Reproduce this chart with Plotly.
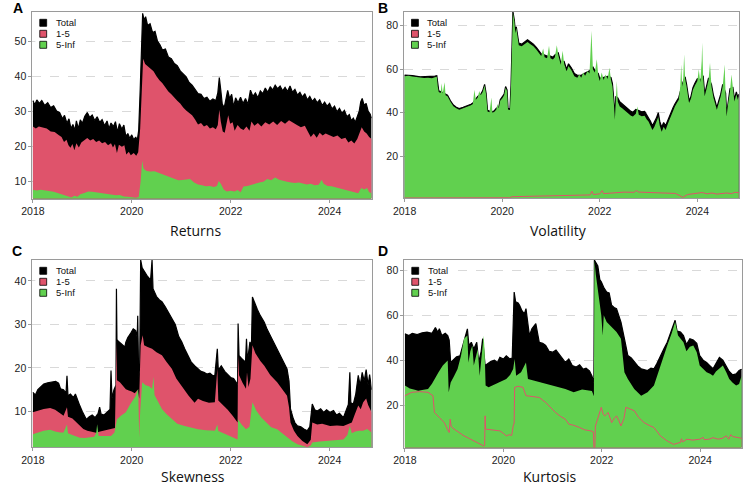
import plotly.graph_objects as go

# ---------------- DATA (time in decimal years, value) ----------------
A_TOTAL = [(2018.00,33.0),(2018.04,31.8),(2018.08,33.2),(2018.13,32.2),(2018.18,33.0),(2018.24,31.6),(2018.30,32.4),(2018.36,31.0),(2018.42,31.5),(2018.48,30.0),(2018.54,29.6),(2018.60,27.8),(2018.64,28.8),(2018.69,26.5),(2018.73,27.8),(2018.77,25.0),(2018.81,26.2),(2018.85,24.5),(2018.88,27.2),(2018.92,25.0),(2018.96,27.5),(2019.00,26.5),(2019.05,28.5),(2019.10,29.6),(2019.15,28.2),(2019.20,28.9),(2019.25,27.3),(2019.30,28.4),(2019.35,26.8),(2019.40,27.6),(2019.45,25.8),(2019.50,27.2),(2019.54,25.0),(2019.58,26.6),(2019.63,25.6),(2019.67,27.0),(2019.71,24.0),(2019.75,26.4),(2019.80,24.8),(2019.84,26.0),(2019.88,22.8),(2019.92,23.6),(2019.96,22.2),(2020.00,23.2),(2020.04,21.8),(2020.08,22.6),(2020.11,21.5),(2020.14,24.5),(2020.17,36.0),(2020.20,52.0),(2020.22,58.0),(2020.25,56.0),(2020.28,57.0),(2020.32,54.5),(2020.37,55.0),(2020.42,52.5),(2020.47,52.8),(2020.52,50.0),(2020.57,49.0),(2020.62,47.5),(2020.68,47.8),(2020.74,45.5),(2020.80,45.0),(2020.86,43.6),(2020.92,43.0),(2020.98,41.5),(2021.04,40.5),(2021.10,39.8),(2021.16,38.2),(2021.22,37.4),(2021.28,36.2),(2021.34,35.0),(2021.40,34.8),(2021.46,33.6),(2021.52,34.0),(2021.58,32.8),(2021.64,33.5),(2021.70,33.0),(2021.74,35.2),(2021.77,39.6),(2021.80,36.0),(2021.83,32.0),(2021.87,31.0),(2021.91,34.0),(2021.94,35.9),(2021.98,33.6),(2022.02,34.8),(2022.06,31.2),(2022.10,33.8),(2022.15,32.4),(2022.20,34.0),(2022.25,32.2),(2022.30,33.6),(2022.35,32.0),(2022.40,36.0),(2022.45,34.2),(2022.50,35.2),(2022.55,33.8),(2022.60,35.8),(2022.65,35.0),(2022.70,36.6),(2022.75,35.4),(2022.80,37.0),(2022.85,36.0),(2022.90,37.4),(2022.95,36.4),(2023.00,37.2),(2023.05,35.8),(2023.10,36.8),(2023.15,35.6),(2023.20,37.2),(2023.25,35.4),(2023.30,36.2),(2023.35,34.6),(2023.40,35.4),(2023.45,34.0),(2023.50,35.0),(2023.55,33.2),(2023.60,34.2),(2023.65,32.8),(2023.70,33.6),(2023.75,32.4),(2023.80,33.2),(2023.85,31.6),(2023.90,32.6),(2023.95,31.4),(2024.00,32.2),(2024.05,30.6),(2024.10,31.4),(2024.15,29.8),(2024.20,30.8),(2024.25,29.4),(2024.30,30.2),(2024.35,28.4),(2024.40,29.0),(2024.44,27.2),(2024.48,28.0),(2024.52,26.8),(2024.56,28.6),(2024.60,30.0),(2024.63,32.6),(2024.66,33.6),(2024.70,31.6),(2024.74,32.2),(2024.78,30.0),(2024.82,29.2),(2024.85,28.0)]
A_R15 = [(2018.00,25.6),(2018.06,25.0),(2018.12,25.6),(2018.20,25.2),(2018.28,25.0),(2018.36,24.2),(2018.44,24.0),(2018.52,23.2),(2018.58,22.6),(2018.63,21.2),(2018.68,21.8),(2018.72,20.2),(2018.76,19.5),(2018.80,20.6),(2018.84,18.8),(2018.88,20.8),(2018.93,19.6),(2018.98,21.0),(2019.04,21.6),(2019.10,22.3),(2019.16,21.6),(2019.22,22.0),(2019.28,21.2),(2019.34,21.6),(2019.40,20.8),(2019.46,21.2),(2019.52,20.2),(2019.58,20.8),(2019.62,19.6),(2019.66,20.6),(2019.70,18.0),(2019.74,20.4),(2019.80,19.8),(2019.85,20.2),(2019.89,17.6),(2019.94,18.4),(2019.98,17.4),(2020.04,18.0),(2020.09,17.2),(2020.13,18.2),(2020.17,25.0),(2020.20,38.0),(2020.23,45.0),(2020.27,43.5),(2020.32,42.8),(2020.38,42.0),(2020.44,41.4),(2020.50,40.0),(2020.56,38.8),(2020.62,38.0),(2020.68,36.8),(2020.74,35.6),(2020.80,34.8),(2020.86,33.8),(2020.92,33.0),(2020.98,32.2),(2021.04,31.0),(2021.10,30.2),(2021.16,29.4),(2021.22,28.8),(2021.28,27.6),(2021.34,26.2),(2021.40,26.6),(2021.46,25.6),(2021.52,26.0),(2021.58,25.0),(2021.64,25.4),(2021.70,24.8),(2021.74,26.0),(2021.77,30.4),(2021.80,27.0),(2021.84,24.2),(2021.88,23.8),(2021.92,27.0),(2021.95,28.8),(2021.99,26.4),(2022.04,26.8),(2022.08,24.4),(2022.14,26.0),(2022.20,25.0),(2022.26,24.6),(2022.32,25.6),(2022.38,24.4),(2022.42,27.0),(2022.48,25.8),(2022.55,26.6),(2022.62,25.6),(2022.70,26.8),(2022.78,26.2),(2022.86,27.0),(2022.94,26.0),(2023.02,27.2),(2023.10,26.4),(2023.18,27.4),(2023.26,26.6),(2023.34,26.0),(2023.42,25.4),(2023.50,25.8),(2023.56,24.2),(2023.62,22.6),(2023.68,23.6),(2023.74,22.4),(2023.80,23.8),(2023.86,23.0),(2023.92,23.6),(2024.00,23.0),(2024.08,22.6),(2024.16,23.0),(2024.24,22.0),(2024.32,22.4),(2024.38,21.0),(2024.44,21.6),(2024.50,20.7),(2024.56,22.0),(2024.61,24.0),(2024.65,25.4),(2024.70,24.2),(2024.75,23.6),(2024.80,22.6),(2024.85,22.0)]
A_R5INF = [(2018.00,7.5),(2018.08,7.3),(2018.16,7.5),(2018.25,7.3),(2018.33,7.2),(2018.42,6.9),(2018.50,6.6),(2018.58,6.3),(2018.66,5.9),(2018.72,5.6),(2018.78,5.3),(2018.84,5.8),(2018.90,5.5),(2018.96,6.2),(2019.04,6.6),(2019.12,7.0),(2019.20,6.9),(2019.28,6.7),(2019.36,6.5),(2019.44,6.4),(2019.52,6.2),(2019.60,6.1),(2019.68,5.9),(2019.76,6.0),(2019.84,5.6),(2019.92,5.5),(2020.00,5.3),(2020.08,5.2),(2020.14,5.4),(2020.18,10.0),(2020.21,15.8),(2020.24,13.5),(2020.30,12.9),(2020.38,12.7),(2020.46,12.8),(2020.54,12.4),(2020.62,12.0),(2020.70,11.6),(2020.78,11.2),(2020.86,10.6),(2020.94,10.2),(2021.02,10.3),(2021.10,10.4),(2021.18,10.6),(2021.26,9.6),(2021.34,9.0),(2021.42,8.8),(2021.50,8.5),(2021.58,8.6),(2021.66,8.3),(2021.72,8.6),(2021.76,10.0),(2021.80,9.2),(2021.86,7.6),(2021.92,7.0),(2022.00,7.2),(2022.08,7.0),(2022.14,7.4),(2022.20,6.8),(2022.26,8.4),(2022.34,8.6),(2022.42,9.0),(2022.50,9.3),(2022.58,9.6),(2022.66,9.8),(2022.74,10.6),(2022.82,10.2),(2022.90,11.0),(2022.98,10.4),(2023.06,10.0),(2023.14,9.8),(2023.22,9.6),(2023.30,9.4),(2023.38,9.6),(2023.46,9.2),(2023.54,9.0),(2023.62,9.2),(2023.70,8.8),(2023.78,8.9),(2023.84,10.4),(2023.88,9.2),(2023.96,8.6),(2024.04,8.5),(2024.12,8.2),(2024.20,8.0),(2024.28,7.8),(2024.36,7.4),(2024.44,7.0),(2024.52,6.8),(2024.58,6.5),(2024.64,8.0),(2024.70,7.6),(2024.76,8.0),(2024.80,6.8),(2024.85,6.6)]

B_TOTAL = [(2018.00,57.3),(2018.16,57.1),(2018.32,56.5),(2018.48,56.5),(2018.62,56.8),(2018.66,57.0),(2018.70,50.0),(2018.78,49.3),(2018.84,48.5),(2018.88,48.0),(2018.94,45.5),(2019.00,43.5),(2019.06,42.5),(2019.12,41.9),(2019.20,42.5),(2019.28,43.1),(2019.36,43.9),(2019.40,44.5),(2019.46,46.5),(2019.50,47.5),(2019.56,48.5),(2019.60,50.0),(2019.64,53.0),(2019.67,49.0),(2019.70,41.1),(2019.74,40.7),(2019.80,40.5),(2019.84,40.9),(2019.88,42.0),(2019.93,42.5),(2019.96,46.0),(2020.00,47.0),(2020.04,48.5),(2020.07,52.0),(2020.10,50.5),(2020.12,42.0),(2020.16,41.7),(2020.18,52.0),(2020.20,74.5),(2020.22,86.5),(2020.25,82.5),(2020.27,77.0),(2020.29,79.5),(2020.31,75.5),(2020.34,72.0),(2020.40,71.5),(2020.46,72.5),(2020.52,73.5),(2020.58,72.5),(2020.64,71.5),(2020.70,70.0),(2020.76,68.5),(2020.80,67.0),(2020.87,66.5),(2020.92,66.0),(2020.99,66.0),(2021.04,65.5),(2021.08,66.5),(2021.15,67.5),(2021.20,63.0),(2021.27,63.5),(2021.32,60.0),(2021.36,62.5),(2021.42,60.5),(2021.48,58.0),(2021.54,57.2),(2021.62,57.2),(2021.70,58.2),(2021.79,59.2),(2021.86,61.0),(2021.90,59.5),(2021.97,58.0),(2022.00,55.8),(2022.08,56.2),(2022.16,56.7),(2022.23,56.2),(2022.26,53.4),(2022.29,45.5),(2022.31,38.5),(2022.33,47.5),(2022.37,46.8),(2022.41,45.0),(2022.46,44.0),(2022.52,42.8),(2022.58,42.0),(2022.64,40.6),(2022.68,40.2),(2022.74,41.5),(2022.80,41.0),(2022.86,40.4),(2022.92,40.6),(2022.96,39.0),(2023.00,38.0),(2023.04,36.0),(2023.08,34.0),(2023.12,35.5),(2023.16,37.5),(2023.20,40.0),(2023.23,36.0),(2023.27,33.3),(2023.31,35.5),(2023.35,34.0),(2023.40,37.0),(2023.45,39.5),(2023.50,42.2),(2023.54,44.0),(2023.58,45.5),(2023.62,47.0),(2023.69,53.0),(2023.75,56.5),(2023.78,53.0),(2023.81,49.0),(2023.83,45.4),(2023.87,47.5),(2023.91,51.5),(2023.95,53.5),(2024.00,55.6),(2024.06,55.0),(2024.12,57.0),(2024.15,48.5),(2024.19,52.0),(2024.23,56.0),(2024.29,53.0),(2024.33,48.0),(2024.37,45.0),(2024.40,42.3),(2024.44,45.5),(2024.48,48.5),(2024.52,53.0),(2024.58,49.0),(2024.60,39.2),(2024.63,45.0),(2024.67,51.0),(2024.73,51.5),(2024.76,46.2),(2024.80,49.5),(2024.83,47.0),(2024.85,48.5)]
B_R15 = [(2018.00,0.8),(2018.50,0.8),(2019.00,0.8),(2019.50,0.8),(2020.00,0.8),(2020.15,0.9),(2020.20,1.4),(2020.50,1.5),(2020.90,1.6),(2021.00,1.8),(2021.50,1.9),(2021.80,2.2),(2021.84,3.9),(2021.87,2.4),(2022.00,2.7),(2022.05,4.2),(2022.08,2.8),(2022.20,3.0),(2022.40,3.2),(2022.50,3.5),(2022.70,3.4),(2022.75,4.2),(2022.80,3.5),(2023.00,3.3),(2023.20,3.4),(2023.40,3.1),(2023.55,2.9),(2023.65,1.8),(2023.70,1.1),(2023.80,2.4),(2023.90,2.8),(2024.00,3.0),(2024.10,3.3),(2024.20,2.7),(2024.30,3.1),(2024.40,2.6),(2024.50,2.9),(2024.60,3.1),(2024.70,2.8),(2024.77,3.4),(2024.85,3.3)]
B_R5INF = [(2018.00,56.8),(2018.08,57.0),(2018.16,56.6),(2018.24,56.3),(2018.32,56.0),(2018.40,55.9),(2018.48,56.0),(2018.56,55.8),(2018.62,56.3),(2018.66,56.5),(2018.68,52.0),(2018.70,49.5),(2018.74,49.0),(2018.76,53.5),(2018.78,48.8),(2018.82,54.0),(2018.84,48.0),(2018.88,47.5),(2018.94,45.0),(2019.00,43.0),(2019.06,42.0),(2019.12,41.4),(2019.20,42.0),(2019.28,42.6),(2019.36,43.4),(2019.40,44.0),(2019.43,50.5),(2019.46,46.0),(2019.50,47.0),(2019.53,50.0),(2019.56,48.0),(2019.60,49.5),(2019.64,52.5),(2019.67,48.5),(2019.70,40.6),(2019.74,40.2),(2019.78,47.0),(2019.80,40.0),(2019.84,40.4),(2019.88,41.5),(2019.90,44.0),(2019.93,42.0),(2019.96,45.5),(2020.00,46.5),(2020.04,48.0),(2020.07,51.5),(2020.10,50.0),(2020.12,41.5),(2020.16,41.2),(2020.18,51.5),(2020.20,74.0),(2020.22,86.0),(2020.25,82.0),(2020.27,76.5),(2020.29,79.0),(2020.31,75.0),(2020.34,71.0),(2020.40,70.5),(2020.46,71.5),(2020.52,72.5),(2020.58,71.5),(2020.64,70.5),(2020.70,69.0),(2020.76,67.5),(2020.80,66.0),(2020.84,69.5),(2020.87,65.5),(2020.92,65.0),(2020.96,70.8),(2020.99,65.0),(2021.04,64.5),(2021.08,65.5),(2021.12,71.0),(2021.15,66.5),(2021.20,62.0),(2021.24,68.5),(2021.27,62.5),(2021.32,59.0),(2021.36,61.5),(2021.42,59.5),(2021.48,56.8),(2021.54,56.0),(2021.58,57.5),(2021.62,56.0),(2021.66,58.5),(2021.70,57.0),(2021.75,59.2),(2021.79,58.0),(2021.83,77.7),(2021.86,60.0),(2021.90,58.5),(2021.94,64.6),(2021.97,57.0),(2022.00,54.6),(2022.04,58.5),(2022.08,55.0),(2022.12,57.5),(2022.16,55.5),(2022.20,60.7),(2022.23,55.0),(2022.26,52.2),(2022.29,44.0),(2022.31,36.7),(2022.33,46.0),(2022.35,54.6),(2022.37,45.0),(2022.41,42.9),(2022.46,42.0),(2022.52,40.8),(2022.58,40.0),(2022.64,38.6),(2022.68,38.2),(2022.74,39.5),(2022.77,42.9),(2022.80,39.0),(2022.86,38.4),(2022.92,38.6),(2022.96,37.0),(2023.00,36.0),(2023.04,34.0),(2023.08,32.0),(2023.12,33.5),(2023.16,35.5),(2023.20,38.0),(2023.23,34.0),(2023.27,31.3),(2023.31,33.5),(2023.35,32.0),(2023.40,35.2),(2023.45,38.0),(2023.50,41.0),(2023.54,42.9),(2023.58,44.5),(2023.62,46.0),(2023.65,52.0),(2023.67,62.2),(2023.69,52.0),(2023.71,55.0),(2023.73,66.8),(2023.75,55.5),(2023.78,52.0),(2023.81,48.0),(2023.83,44.4),(2023.87,46.5),(2023.91,50.5),(2023.95,52.5),(2024.00,54.6),(2024.03,60.0),(2024.06,54.0),(2024.09,64.0),(2024.10,72.3),(2024.12,56.0),(2024.15,47.5),(2024.19,51.0),(2024.23,55.0),(2024.26,63.0),(2024.29,52.0),(2024.33,47.0),(2024.37,44.0),(2024.40,41.3),(2024.44,44.5),(2024.48,47.5),(2024.52,52.0),(2024.56,62.2),(2024.58,48.0),(2024.60,38.2),(2024.63,44.0),(2024.67,50.0),(2024.70,57.6),(2024.73,50.5),(2024.76,45.2),(2024.80,48.5),(2024.83,46.0),(2024.85,47.5)]

C_TOTAL = [(2018.00,14.4),(2018.05,13.8),(2018.10,15.0),(2018.15,15.6),(2018.22,16.3),(2018.30,16.6),(2018.38,16.8),(2018.46,16.9),(2018.52,16.5),(2018.56,15.2),(2018.62,15.0),(2018.67,14.2),(2018.69,18.2),(2018.71,13.6),(2018.76,14.0),(2018.82,13.2),(2018.86,14.0),(2018.90,12.6),(2018.95,11.3),(2019.00,10.0),(2019.05,8.8),(2019.08,8.2),(2019.14,8.8),(2019.20,9.2),(2019.26,8.6),(2019.32,9.6),(2019.35,11.0),(2019.38,9.4),(2019.44,9.2),(2019.50,9.8),(2019.56,10.5),(2019.58,19.4),(2019.60,13.0),(2019.64,15.0),(2019.68,16.0),(2019.69,38.2),(2019.70,26.5),(2019.74,26.0),(2019.80,25.4),(2019.86,24.8),(2019.88,25.9),(2019.92,27.0),(2019.98,28.0),(2020.03,29.0),(2020.08,28.6),(2020.11,27.0),(2020.12,32.0),(2020.14,18.0),(2020.16,20.0),(2020.18,44.8),(2020.21,43.0),(2020.26,42.0),(2020.32,41.0),(2020.38,40.2),(2020.41,44.8),(2020.43,38.2),(2020.50,36.4),(2020.56,35.6),(2020.61,35.2),(2020.68,34.0),(2020.74,32.8),(2020.81,31.7),(2020.88,30.0),(2020.95,27.2),(2021.01,26.0),(2021.07,24.4),(2021.14,22.6),(2021.20,21.4),(2021.27,20.5),(2021.34,19.8),(2021.40,19.2),(2021.46,19.0),(2021.52,18.6),(2021.58,18.8),(2021.64,18.2),(2021.68,18.3),(2021.73,24.4),(2021.75,19.5),(2021.81,20.5),(2021.88,19.2),(2021.94,18.5),(2022.00,17.8),(2022.06,17.6),(2022.10,17.0),(2022.14,16.2),(2022.15,30.2),(2022.17,22.8),(2022.22,22.2),(2022.27,21.6),(2022.30,21.3),(2022.32,26.7),(2022.34,21.6),(2022.39,26.0),(2022.42,25.0),(2022.44,36.3),(2022.48,35.0),(2022.54,33.4),(2022.60,32.0),(2022.68,30.5),(2022.74,28.8),(2022.80,27.4),(2022.88,25.8),(2022.94,24.4),(2023.00,23.0),(2023.06,21.4),(2023.14,19.8),(2023.18,17.0),(2023.21,10.6),(2023.26,8.6),(2023.30,7.4),(2023.35,6.7),(2023.42,6.5),(2023.48,6.0),(2023.55,5.6),(2023.60,6.5),(2023.65,11.7),(2023.70,10.4),(2023.75,10.1),(2023.82,10.6),(2023.88,9.8),(2023.94,10.4),(2024.01,9.8),(2024.08,10.2),(2024.14,9.2),(2024.20,9.6),(2024.28,8.6),(2024.34,10.4),(2024.38,11.6),(2024.41,19.0),(2024.43,12.0),(2024.48,11.7),(2024.53,14.0),(2024.58,18.3),(2024.62,16.0),(2024.66,19.0),(2024.70,17.0),(2024.74,19.6),(2024.78,16.0),(2024.81,18.5),(2024.85,15.0)]
C_R15 = [(2018.00,9.8),(2018.10,10.2),(2018.22,10.6),(2018.35,10.8),(2018.45,10.4),(2018.55,9.6),(2018.62,9.0),(2018.69,11.0),(2018.71,8.8),(2018.80,8.4),(2018.88,7.6),(2018.95,6.7),(2019.02,6.0),(2019.10,5.6),(2019.20,5.4),(2019.28,5.1),(2019.36,5.4),(2019.44,5.6),(2019.52,5.8),(2019.58,5.9),(2019.66,6.2),(2019.69,25.8),(2019.70,17.2),(2019.76,16.7),(2019.82,16.0),(2019.88,15.1),(2019.94,14.8),(2020.00,14.6),(2020.06,14.2),(2020.12,15.0),(2020.15,13.0),(2020.18,25.2),(2020.22,27.5),(2020.25,25.2),(2020.32,24.8),(2020.41,24.4),(2020.50,23.6),(2020.61,22.9),(2020.70,21.4),(2020.81,19.8),(2020.90,17.6),(2021.00,16.0),(2021.07,15.1),(2021.15,13.6),(2021.27,12.0),(2021.34,12.9),(2021.44,12.4),(2021.56,12.0),(2021.68,12.1),(2021.73,19.8),(2021.75,12.5),(2021.84,11.6),(2021.94,10.4),(2022.04,9.0),(2022.14,7.5),(2022.15,22.8),(2022.17,18.3),(2022.24,16.6),(2022.31,15.2),(2022.33,19.0),(2022.36,15.6),(2022.40,17.5),(2022.44,25.2),(2022.50,23.4),(2022.60,21.6),(2022.68,20.5),(2022.80,18.4),(2022.94,16.7),(2023.04,15.2),(2023.14,13.6),(2023.18,11.0),(2023.21,7.5),(2023.28,5.6),(2023.35,4.4),(2023.45,3.2),(2023.55,2.5),(2023.62,3.5),(2023.65,7.5),(2023.75,7.0),(2023.85,7.2),(2024.01,6.7),(2024.15,6.8),(2024.28,6.7),(2024.38,7.2),(2024.45,7.5),(2024.50,9.0),(2024.55,10.6),(2024.58,11.4),(2024.63,10.5),(2024.68,12.1),(2024.74,13.0),(2024.78,11.5),(2024.85,9.8)]
C_R5INF = [(2018.00,4.8),(2018.10,5.2),(2018.22,5.6),(2018.35,5.8),(2018.45,5.4),(2018.55,5.2),(2018.62,5.2),(2018.69,7.0),(2018.71,5.0),(2018.80,4.6),(2018.90,4.2),(2018.95,4.0),(2019.05,3.9),(2019.15,4.0),(2019.24,4.2),(2019.28,5.0),(2019.30,7.1),(2019.33,4.4),(2019.40,4.4),(2019.50,4.5),(2019.58,4.4),(2019.65,5.2),(2019.70,8.2),(2019.78,9.0),(2019.88,9.8),(2019.96,11.5),(2020.02,12.6),(2020.08,13.6),(2020.13,15.2),(2020.15,4.0),(2020.17,10.0),(2020.21,16.7),(2020.28,16.0),(2020.35,15.8),(2020.41,15.2),(2020.44,18.0),(2020.46,13.8),(2020.54,12.0),(2020.61,10.6),(2020.70,9.4),(2020.81,8.2),(2020.92,7.2),(2021.07,6.7),(2021.20,6.3),(2021.34,5.9),(2021.50,5.7),(2021.68,5.6),(2021.73,7.0),(2021.75,5.5),(2021.90,4.8),(2022.04,4.2),(2022.14,3.6),(2022.15,8.2),(2022.22,7.0),(2022.31,5.9),(2022.38,6.5),(2022.44,12.1),(2022.52,10.2),(2022.62,8.6),(2022.72,7.4),(2022.82,6.4),(2022.94,5.9),(2023.04,5.0),(2023.14,4.0),(2023.24,3.2),(2023.35,2.5),(2023.45,2.1),(2023.55,1.8),(2023.62,2.2),(2023.65,2.9),(2023.80,3.1),(2024.01,3.3),(2024.15,3.4),(2024.28,3.6),(2024.36,4.6),(2024.41,6.7),(2024.45,5.0),(2024.52,5.4),(2024.60,5.6),(2024.68,5.6),(2024.76,6.0),(2024.85,5.2)]

D_TOTAL = [(2018.00,51.8),(2018.08,51.0),(2018.15,52.0),(2018.25,51.4),(2018.35,52.2),(2018.45,52.5),(2018.55,52.0),(2018.62,54.6),(2018.67,52.5),(2018.70,54.0),(2018.75,51.0),(2018.82,52.0),(2018.87,51.0),(2018.90,49.0),(2018.93,39.0),(2018.98,40.0),(2019.05,41.5),(2019.12,42.0),(2019.18,47.0),(2019.23,51.0),(2019.27,54.0),(2019.30,46.6),(2019.35,48.0),(2019.40,45.0),(2019.46,48.0),(2019.50,39.0),(2019.55,44.0),(2019.58,49.6),(2019.61,43.0),(2019.63,37.6),(2019.68,38.4),(2019.75,39.5),(2019.82,40.0),(2019.88,39.0),(2019.93,41.3),(2020.00,40.5),(2020.06,42.0),(2020.13,40.6),(2020.18,41.0),(2020.22,70.4),(2020.25,66.0),(2020.30,65.5),(2020.33,64.5),(2020.38,62.0),(2020.43,60.7),(2020.46,63.0),(2020.53,51.0),(2020.58,54.0),(2020.66,56.3),(2020.73,48.0),(2020.80,47.5),(2020.86,46.6),(2020.93,44.0),(2021.00,43.6),(2021.07,44.5),(2021.13,42.8),(2021.20,41.0),(2021.26,39.0),(2021.33,40.5),(2021.40,37.6),(2021.48,37.0),(2021.55,38.0),(2021.62,36.0),(2021.68,36.5),(2021.75,35.2),(2021.80,33.0),(2021.84,30.0),(2021.85,84.6),(2021.92,82.0),(2021.96,76.0),(2021.99,75.0),(2022.05,72.0),(2022.10,70.4),(2022.15,70.0),(2022.20,64.5),(2022.25,63.5),(2022.30,63.0),(2022.35,60.0),(2022.39,57.0),(2022.46,49.6),(2022.53,42.1),(2022.60,41.0),(2022.66,39.2),(2022.73,37.5),(2022.80,36.2),(2022.93,35.4),(2023.00,36.5),(2023.06,36.2),(2023.12,38.5),(2023.19,42.0),(2023.26,45.0),(2023.33,48.0),(2023.40,52.0),(2023.45,55.0),(2023.49,57.8),(2023.53,53.0),(2023.60,52.6),(2023.66,51.0),(2023.72,47.0),(2023.79,49.6),(2023.86,49.0),(2023.93,47.5),(2023.99,42.0),(2024.06,40.0),(2024.13,39.0),(2024.20,37.5),(2024.26,36.2),(2024.32,38.5),(2024.39,41.3),(2024.46,40.0),(2024.53,37.0),(2024.59,35.0),(2024.66,33.5),(2024.73,33.9),(2024.79,35.4),(2024.84,36.0)]
D_R15 = [(2018.00,24.2),(2018.07,25.0),(2018.14,25.7),(2018.30,26.0),(2018.47,25.7),(2018.57,24.2),(2018.60,16.7),(2018.70,14.5),(2018.80,12.2),(2018.88,8.5),(2018.90,7.8),(2018.92,13.7),(2018.94,10.5),(2019.00,9.3),(2019.10,7.8),(2019.20,6.3),(2019.30,5.2),(2019.40,4.0),(2019.50,3.0),(2019.60,1.8),(2019.62,2.0),(2019.63,15.2),(2019.64,9.3),(2019.75,9.0),(2019.85,8.8),(2019.93,8.5),(2020.00,7.4),(2020.06,6.3),(2020.12,6.8),(2020.17,6.5),(2020.20,10.7),(2020.22,12.0),(2020.23,27.9),(2020.30,28.4),(2020.40,27.9),(2020.46,24.2),(2020.60,23.8),(2020.73,23.4),(2020.86,21.2),(2020.96,19.0),(2021.06,16.7),(2021.16,15.0),(2021.26,13.7),(2021.33,11.5),(2021.43,11.0),(2021.55,10.0),(2021.65,9.0),(2021.78,8.5),(2021.83,8.0),(2021.84,1.0),(2021.86,1.0),(2021.87,10.6),(2021.92,14.0),(2021.99,19.0),(2022.03,16.0),(2022.06,15.2),(2022.13,16.7),(2022.20,12.2),(2022.25,14.0),(2022.30,15.2),(2022.35,13.0),(2022.39,10.7),(2022.45,14.0),(2022.49,19.0),(2022.55,18.5),(2022.66,17.5),(2022.75,14.5),(2022.86,12.2),(2022.96,11.0),(2023.06,10.0),(2023.19,6.3),(2023.33,4.0),(2023.46,2.5),(2023.60,3.4),(2023.62,5.0),(2023.64,3.6),(2023.73,4.8),(2023.85,4.4),(2023.99,4.8),(2024.06,5.6),(2024.08,4.6),(2024.18,4.8),(2024.26,5.5),(2024.36,4.8),(2024.45,5.2),(2024.53,6.3),(2024.58,4.8),(2024.62,6.8),(2024.66,6.0),(2024.79,5.5),(2024.84,5.2)]
D_R5INF = [(2018.00,28.7),(2018.10,27.4),(2018.20,26.8),(2018.27,26.4),(2018.38,26.8),(2018.47,27.2),(2018.55,29.5),(2018.60,31.6),(2018.68,34.5),(2018.77,37.6),(2018.83,39.0),(2018.87,39.9),(2018.89,25.7),(2018.93,30.1),(2019.00,33.0),(2019.07,36.1),(2019.14,42.0),(2019.20,49.6),(2019.27,51.0),(2019.29,39.0),(2019.33,44.0),(2019.37,46.6),(2019.40,37.6),(2019.44,42.0),(2019.48,45.0),(2019.52,33.1),(2019.56,42.0),(2019.60,51.0),(2019.62,44.0),(2019.64,28.7),(2019.70,28.0),(2019.80,29.0),(2019.93,30.1),(2020.06,31.6),(2020.14,33.5),(2020.20,36.1),(2020.23,40.6),(2020.26,33.1),(2020.36,34.6),(2020.46,39.0),(2020.50,31.6),(2020.60,31.0),(2020.73,30.1),(2020.86,29.4),(2021.00,28.7),(2021.13,28.0),(2021.26,27.2),(2021.43,25.7),(2021.60,27.0),(2021.70,26.6),(2021.80,26.3),(2021.84,24.0),(2021.85,84.6),(2021.88,78.0),(2021.92,72.0),(2021.96,64.0),(2021.99,60.0),(2022.02,51.0),(2022.04,60.0),(2022.10,57.0),(2022.20,54.8),(2022.30,52.6),(2022.39,49.6),(2022.46,34.6),(2022.53,31.6),(2022.66,27.2),(2022.80,24.2),(2022.93,25.7),(2023.06,28.7),(2023.19,37.6),(2023.33,46.6),(2023.42,52.0),(2023.49,57.0),(2023.55,51.0),(2023.60,49.6),(2023.66,48.0),(2023.72,44.0),(2023.79,46.0),(2023.86,46.6),(2023.93,43.6),(2023.99,37.6),(2024.06,36.0),(2024.13,34.6),(2024.20,34.0),(2024.26,33.1),(2024.32,35.0),(2024.39,36.2),(2024.46,37.6),(2024.53,34.6),(2024.59,31.6),(2024.66,30.0),(2024.73,28.7),(2024.79,29.4),(2024.84,33.0)]

SERIES_NAMES = ["Total", "1-5", "5-Inf"]
PANEL_TITLES = ["Returns", "Volatility", "Skewness", "Kurtosis"]
PANEL_LETTERS = ["A", "B", "C", "D"]
X_TICKS = [2018, 2020, 2022, 2024]
Y_TICKS = [[10, 20, 30, 40, 50], [20, 40, 60, 80], [10, 20, 30, 40], [20, 40, 60, 80]]
Y_RANGES = [[5.0, 58.5], [0.8, 86.5], [1.85, 44.9], [1.1, 84.9]]
X_RANGE = [2017.99, 2024.85]

# ---------------- STYLE / LAYOUT ----------------
W, H = 745, 487
BLACK, RED, GREEN = "#000000", "#DF536B", "#61D04F"
COLORS = [BLACK, RED, GREEN]
TICKFONT = dict(family="Liberation Sans Narrow, Liberation Sans, Arial, sans-serif", size=10.5, color="#222")

# plot boxes in pixels: left, right, top, bottom
BOXES = [(21.7, 366.0, 11.5, 198.5), (399.0, 738.7, 11.5, 198.0),
         (21.7, 366.0, 259.5, 447.0), (399.3, 742.0, 259.5, 447.5)]
TITLE_POS = [(187, 230), (556, 230), (185, 476.5), (547, 476.5)]
LETTER_POS = [(7, 8), (378, 8), (6, 251), (378, 251)]

def px(x):
    return x / W

def py(y):
    return 1 - y / H

PANELS = [
    (A_TOTAL, A_R15, A_R5INF, False),
    (B_TOTAL, B_R15, B_R5INF, True),
    (C_TOTAL, C_R15, C_R5INF, False),
    (D_TOTAL, D_R15, D_R5INF, True),
]

fig = go.Figure()
shapes, annotations = [], []
layout = {}

for i, (tot, r15, r5, redline) in enumerate(PANELS):
    n = i + 1
    xa = "x" if n == 1 else f"x{n}"
    ya = "y" if n == 1 else f"y{n}"
    for k, ser in enumerate((tot, r15, r5)):
        t = [p[0] for p in ser]
        v = [p[1] for p in ser]
        lw = 1.2 if k == 0 else 0
        fig.add_trace(go.Scatter(
            x=t, y=v, mode="lines", fill="tozeroy",
            fillcolor=COLORS[k], line=dict(color=COLORS[k], width=lw),
            name=SERIES_NAMES[k], showlegend=False, hoverinfo="skip",
            xaxis=xa, yaxis=ya))
    if redline:
        fig.add_trace(go.Scatter(
            x=[p[0] for p in r15], y=[p[1] for p in r15], mode="lines",
            line=dict(color=RED, width=1), showlegend=False, hoverinfo="skip",
            xaxis=xa, yaxis=ya))

    x0, x1, y0, y1 = BOXES[i]
    axcommon = dict(showline=True, mirror=True, linecolor="#9a9a9a", linewidth=1,
                    ticks="outside", ticklen=3, tickcolor="#9a9a9a",
                    tickfont=TICKFONT, zeroline=False)
    layout["xaxis" if n == 1 else f"xaxis{n}"] = dict(
        domain=[px(x0), px(x1)], anchor=ya, range=X_RANGE,
        tickmode="array", tickvals=X_TICKS, showgrid=False, **axcommon)
    layout["yaxis" if n == 1 else f"yaxis{n}"] = dict(
        domain=[py(y1), py(y0)], anchor=xa, range=Y_RANGES[i],
        tickmode="array", tickvals=Y_TICKS[i], showgrid=True,
        gridcolor="#d9d9d9", griddash="dash", gridwidth=1, **axcommon)

    # legend (drawn manually to match compact R-style legend), white background box
    shapes.append(dict(type="rect", xref="paper", yref="paper",
                       x0=px(x0 + 3), x1=px(x0 + 50), y0=py(y0 + 40), y1=py(y0 + 4),
                       fillcolor="white", line=dict(width=0)))
    for k in range(3):
        cy = y0 + 11.3 + k * 11.0
        sx = x0 + 7.5
        shapes.append(dict(type="rect", xref="paper", yref="paper",
                           x0=px(sx), x1=px(sx + 7), y0=py(cy + 3.5), y1=py(cy - 3.5),
                           fillcolor=COLORS[k], line=dict(color="#000", width=0.8)))
        annotations.append(dict(x=px(x0 + 21.5), y=py(cy), xref="paper", yref="paper",
                                text=SERIES_NAMES[k], showarrow=False, xanchor="left",
                                yanchor="middle",
                                font=dict(family="Liberation Sans, Arial, sans-serif",
                                          size=9.5, color="#111")))
    tx, ty = TITLE_POS[i]
    annotations.append(dict(x=px(tx), y=py(ty), xref="paper", yref="paper",
                            text=PANEL_TITLES[i], showarrow=False, xanchor="center",
                            yanchor="middle",
                            font=dict(family="Open Sans, sans-serif", size=14, color="#111")))
    lx, ly = LETTER_POS[i]
    annotations.append(dict(x=px(lx), y=py(ly), xref="paper", yref="paper",
                            text="<b>" + PANEL_LETTERS[i] + "</b>", showarrow=False,
                            xanchor="center", yanchor="middle",
                            font=dict(family="Liberation Sans, Arial, sans-serif", size=14, color="#000")))

fig.update_layout(
    width=W, height=H, margin=dict(l=0, r=0, t=0, b=0),
    paper_bgcolor="white", plot_bgcolor="white",
    showlegend=False, shapes=shapes, annotations=annotations, **layout)

fig.write_html("out.html")
